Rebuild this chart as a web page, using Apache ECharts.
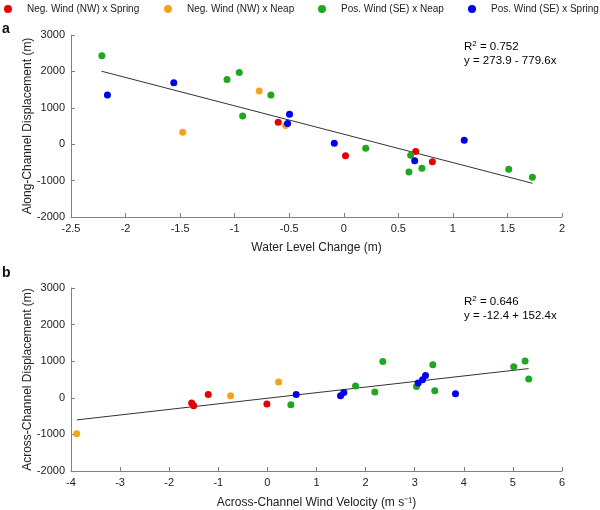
<!DOCTYPE html>
<html><head><meta charset="utf-8">
<script src="https://cdn.jsdelivr.net/npm/echarts@6/dist/echarts.min.js"></script>
<style>html,body{margin:0;padding:0;background:#fff}#c{width:600px;height:510px}</style>
</head><body><div id="c"></div>
<script>
const seriesNames = ['Neg. Wind (NW) x Spring','Neg. Wind (NW) x Neap','Pos. Wind (SE) x Neap','Pos. Wind (SE) x Spring'];
const seriesColors = ['#e60000','#f7a21b','#1fa81f','#0000ee'];

// Panel a: Water level change (m) vs along-channel displacement (m)
const aNegSpringX = [-0.601, 0.016, 0.659, 0.812];
const aNegSpringY = [601, -317, -199, -481];
const aNegNeapX = [-1.476, -0.775, -0.533];
const aNegNeapY = [328, 1459, 511];
const aPosNeapX = [-2.217, -1.070, -0.958, -0.927, -0.668, 0.201, 0.613, 0.716, 0.597, 1.512, 1.729];
const aPosNeapY = [2432, 1776, 1967, 776, 1350, -109, -301, -664, -765, -691, -910];
const aPosSpringX = [-2.166, -1.558, -0.515, -0.497, -0.087, 0.650, 1.104];
const aPosSpringY = [1350, 1686, 566, 820, 27, -454, 109];
const aFitCoef = [273.9, -779.6];
const aFitRange = [-2.22, 1.73];
const aR2 = '0.752';
const aEq = 'y = 273.9 - 779.6x';

// Panel b: across-channel wind velocity (m s-1) vs across-channel displacement (m)
const bNegSpringX = [-1.543, -1.502, -1.205, -0.010];
const bNegSpringY = [-145, -219, 90, -172];
const bNegNeapX = [-3.884, -0.749, 0.228];
const bNegNeapY = [-984, 55, 429];
const bPosNeapX = [0.478, 1.795, 2.188, 2.351, 3.037, 3.369, 3.409, 5.017, 5.248, 5.323];
const bPosNeapY = [-191, 320, 156, 992, 309, 902, 191, 847, 1003, 511];
const bPosSpringX = [0.586, 1.490, 1.557, 3.070, 3.159, 3.220, 3.831];
const bPosSpringY = [90, 55, 145, 402, 492, 609, 109];
const bFitCoef = [-12.4, 152.4];
const bFitRange = [-3.88, 5.32];
const bR2 = '0.646';
const bEq = 'y = -12.4 + 152.4x';

const FONT = '"Liberation Sans", Arial, Helvetica, sans-serif';
const zip = (xs, ys) => xs.map((x, i) => [x, ys[i]]);
const fitLine = (coef, range) => range.map(x => [x, coef[0] + coef[1] * x]);

const panels = [
  {sets: [[aNegSpringX,aNegSpringY],[aNegNeapX,aNegNeapY],[aPosNeapX,aPosNeapY],[aPosSpringX,aPosSpringY]], coef: aFitCoef, range: aFitRange},
  {sets: [[bNegSpringX,bNegSpringY],[bNegNeapX,bNegNeapY],[bPosNeapX,bPosNeapY],[bPosSpringX,bPosSpringY]], coef: bFitCoef, range: bFitRange}
];

const series = [];
panels.forEach((p, pi) => {
  series.push({
    type: 'line', xAxisIndex: pi, yAxisIndex: pi, data: fitLine(p.coef, p.range),
    showSymbol: false, symbol: 'none', silent: true, z: 1,
    lineStyle: {color: '#333', width: 1}
  });
  p.sets.forEach((s, si) => {
    series.push({
      type: 'scatter', name: seriesNames[si], xAxisIndex: pi, yAxisIndex: pi,
      data: zip(s[0], s[1]), symbolSize: 7, z: 3,
      itemStyle: {color: seriesColors[si], opacity: 1}
    });
  });
});

const plainNum = v => String(v);
const axisCommon = {
  axisLine: {show: true, onZero: false, lineStyle: {color: '#808080', width: 1}},
  axisTick: {show: true, inside: true, length: 4, lineStyle: {color: '#808080'}},
  axisLabel: {color: '#222', fontSize: 11, fontFamily: FONT, margin: 6, formatter: plainNum},
  splitLine: {show: false},
  nameMoveOverlap: false,
  nameTextStyle: {color: '#222', fontSize: 12, fontFamily: FONT}
};

const legendLefts = [4, 164, 318, 468];
const legends = seriesNames.map((n, i) => ({
  data: [n], left: legendLefts[i], top: 4, icon: 'circle', itemWidth: 8, itemHeight: 8,
  padding: 0, textStyle: {fontSize: 10, fontFamily: FONT, color: '#222', padding: [0, 0, 0, 10]}
}));

const rich = {
  r: {fontSize: 11.5, fontFamily: FONT, color: '#222'},
  s: {fontSize: 8, fontFamily: FONT, color: '#222', verticalAlign: 'top', padding: [0, 0, 5, 0]}
};

const option = {
  animation: false,
  backgroundColor: '#fff',
  legend: legends,
  grid: [
    {left: 71, right: 38, top: 35, height: 182},
    {left: 71, right: 38, top: 288, height: 183}
  ],
  xAxis: [
    Object.assign({}, axisCommon, {type: 'value', gridIndex: 0, min: -2.5, max: 2, interval: 0.5,
      name: 'Water Level Change (m)', nameLocation: 'middle', nameGap: 25}),
    Object.assign({}, axisCommon, {type: 'value', gridIndex: 1, min: -4, max: 6, interval: 1,
      name: 'Across-Channel Wind Velocity (m s\u207B\u00B9)', nameLocation: 'middle', nameGap: 26})
  ],
  yAxis: [
    Object.assign({}, axisCommon, {type: 'value', gridIndex: 0, min: -2000, max: 3000, interval: 1000,
      name: 'Along-Channel Displacement (m)', nameLocation: 'middle', nameGap: 37}),
    Object.assign({}, axisCommon, {type: 'value', gridIndex: 1, min: -2000, max: 3000, interval: 1000,
      name: 'Across-Channel Displacement (m)', nameLocation: 'middle', nameGap: 37})
  ],
  graphic: [
    {type: 'text', left: 2, top: 22, style: {text: 'a', font: 'bold 14px ' + FONT, fill: '#111'}},
    {type: 'text', left: 2, top: 266, style: {text: 'b', font: 'bold 14px ' + FONT, fill: '#111'}},
    {type: 'text', left: 464, top: 40, style: {text: '{r|R}{s|2}{r| = ' + aR2 + '}\n{r|' + aEq + '}', rich: rich, lineHeight: 14}},
    {type: 'text', left: 464, top: 295, style: {text: '{r|R}{s|2}{r| = ' + bR2 + '}\n{r|' + bEq + '}', rich: rich, lineHeight: 14}}
  ],
  series: series
};

const chart = echarts.init(document.getElementById('c'), null, {renderer: 'canvas'});
chart.setOption(option);
</script>
</body></html>
